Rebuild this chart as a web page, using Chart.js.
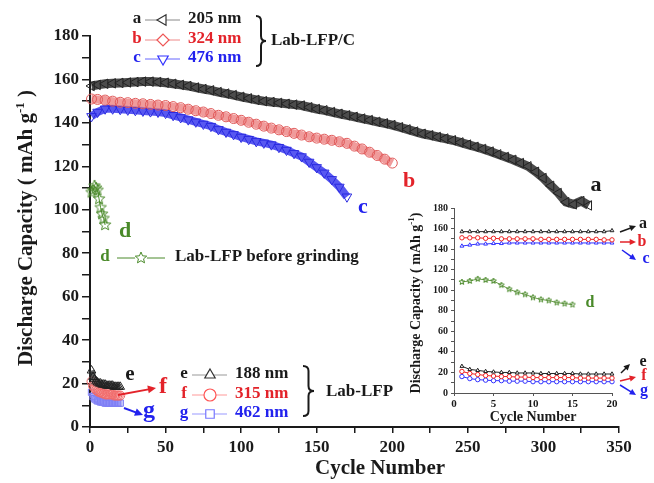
<!DOCTYPE html>
<html>
<head>
<meta charset="utf-8">
<script src="https://cdn.jsdelivr.net/npm/chart.js@4.4.1/dist/chart.umd.min.js"></script>
<style>
  html, body { margin: 0; padding: 0; background: #fff; }
  #wrap { position: relative; width: 654px; height: 483px; }
  #main { position: absolute; left: 0; top: 0; }
  #inset { position: absolute; left: 385px; top: 195px; }
</style>
</head>
<body>
<div id="wrap">
  <canvas id="main" width="654" height="483"></canvas>
  <canvas id="inset" width="269" height="230"></canvas>
</div>
<script>
// long-run cycling (read every ~5 cycles)
const mainCycles = [1,5,10,15,20,25,30,35,40,45,50,55,60,65,70,75,80,85,90,95,100,105,110,115,120,125,130,135,140,145,150,155,160,165,170,175,180,185,190,195,200,205,210,215,220,225,230,235,240,245,250,255,260,265,270,275,280,285,290,295,300,305,310,315,320,325,330];
const capA = [157,157.5,158,158.2,158.4,158.6,158.8,159,159,158.8,158.5,158,157.5,157,156.3,155.6,155,154.2,153.5,152.8,152,151.3,150.6,150,149.6,149.2,148.8,148.4,148,147.2,146.4,145.8,145,144.2,143.5,142.8,142,141.3,140.5,139.8,139,138,137,136,135,134.3,133.5,132.8,132,131,130,129,128,126.8,125.5,124.3,123,121.5,120,117.5,114.6,111,107.7,103.5,102.5,104,102];
const capB = [151,150.8,150.5,150,149.5,149.3,149,148.8,148.5,148.2,148,147.5,147,146.3,145.6,145,144.3,143.5,142.8,142,141.2,140.3,139.4,138.5,137.6,136.8,136,135.2,134.4,133.6,133,132.5,132,131.3,130.6,129.3,128,126.5,125,123.3,121.5];
const capC = [143,145,146.5,146.5,146.3,146,145.8,145.5,145.2,145,144.5,143.5,142.5,141.5,140.5,139.5,138.5,137,135.8,134.7,133.5,132.5,131.5,130.8,130,128.8,127.5,126,124.5,122,119.5,117,114,110.5,106];

// first 20 cycles (inset)
const shortCycles = [1,2,3,4,5,6,7,8,9,10,11,12,13,14,15,16,17,18,19,20];
const inA = [157,157,157,157,157,157,157,157,157,157,157,157,157,157,157,157,157,157,157,158];
const inB = [151,151,151,150.5,150.5,150,150,150,150,150,149.5,149.5,149.5,149.5,149.5,149.5,149.5,149.5,149,149];
const inC = [143,144,145,145,145.5,145.5,146,146,146,146,146,146,146,146,146,146,146,146,146,146];
const inD = [108,109,111,110,109,105,101,98,96,93,91,90,88,87,86];
const inE = [26,23,22,21,20.5,20,20,19.5,19.5,19.5,19,19,19,19,19,18.5,18.5,18.5,18.5,18.5];
const inF = [21,19,18,17,16.5,16,16,15.5,15.5,15,15,15,15,15,15,14.5,14.5,14.5,14.5,14.5];
const inG = [16,14,13,12.5,12,12,11.5,11.5,11.5,11,11,11,11,11,11,11,11,11,11,11];

const mainXTicks = [0, 350, 25];
const mainYTicks = [0, 180, 10];
const insetXTicks = [0, 20, 5];
const insetYTicks = [0, 180, 10];

const SERIF = '"Liberation Serif", "Times New Roman", serif';
const BLACK = '#1a1a1a', RED = '#e3232a', BLUE = '#2222ee', GREEN = '#4a8a2a';

const pts = (xs, ys) => ys.map((v, i) => ({ x: xs[i], y: v }));

function makeStar(r, color) {
  const c = document.createElement('canvas');
  const s = Math.ceil(r * 2 + 2);
  c.width = s; c.height = s;
  const g = c.getContext('2d');
  g.strokeStyle = color; g.lineWidth = 1;
  g.beginPath();
  for (let i = 0; i < 10; i++) {
    const rad = i % 2 ? r * 0.45 : r;
    const a = -Math.PI / 2 + i * Math.PI / 5;
    const px = s / 2 + rad * Math.cos(a), py = s / 2 + rad * Math.sin(a);
    i ? g.lineTo(px, py) : g.moveTo(px, py);
  }
  g.closePath(); g.stroke();
  return c;
}

function text(ctx, s, x, y, color, size, align = 'left') {
  ctx.font = `bold ${size}px ${SERIF}`;
  ctx.fillStyle = color; ctx.textAlign = align; ctx.textBaseline = 'middle';
  ctx.fillText(s, x, y);
}

function arrow(ctx, x1, y1, x2, y2, color, w = 2, head = 9) {
  const a = Math.atan2(y2 - y1, x2 - x1);
  ctx.save();
  ctx.strokeStyle = color; ctx.fillStyle = color; ctx.lineWidth = w;
  ctx.beginPath(); ctx.moveTo(x1, y1);
  ctx.lineTo(x2 - head * 0.7 * Math.cos(a), y2 - head * 0.7 * Math.sin(a)); ctx.stroke();
  ctx.beginPath(); ctx.moveTo(x2, y2);
  ctx.lineTo(x2 - head * Math.cos(a - 0.45), y2 - head * Math.sin(a - 0.45));
  ctx.lineTo(x2 - head * Math.cos(a + 0.45), y2 - head * Math.sin(a + 0.45));
  ctx.closePath(); ctx.fill();
  ctx.restore();
}

function brace(ctx, x, top, bottom, w) {
  const mid = (top + bottom) / 2, r = 5, xm = x + w / 2;
  ctx.save();
  ctx.strokeStyle = BLACK; ctx.lineWidth = 2;
  ctx.beginPath();
  ctx.moveTo(x, top);
  ctx.quadraticCurveTo(xm, top, xm, top + r);
  ctx.lineTo(xm, mid - r);
  ctx.quadraticCurveTo(xm, mid, x + w, mid);
  ctx.quadraticCurveTo(xm, mid, xm, mid + r);
  ctx.lineTo(xm, bottom - r);
  ctx.quadraticCurveTo(xm, bottom, x, bottom);
  ctx.stroke();
  ctx.restore();
}

function legendRow(ctx, y, x0, letter, color, lineColor, style, label, labelColor) {
  text(ctx, letter, x0, y - 1, color, 17, 'center');
  ctx.save();
  ctx.strokeStyle = lineColor; ctx.lineWidth = 1;
  ctx.beginPath(); ctx.moveTo(x0 + 8, y); ctx.lineTo(x0 + 43, y); ctx.stroke();
  ctx.fillStyle = '#fff'; ctx.strokeStyle = style.color; ctx.lineWidth = 1.2;
  Chart.helpers.drawPoint(ctx, { pointStyle: style.shape, rotation: style.rot || 0,
    radius: style.r || 6, borderWidth: 1.2 }, x0 + 26, y);
  ctx.restore();
  text(ctx, label, x0 + 51, y - 1, labelColor, 17);
}

function yTitle(ctx, cx, cy, size, tail) {
  const head = 'Discharge Capacity ( mAh g', sup = '-1';
  const ss = Math.round(size * 0.62);
  ctx.save();
  ctx.translate(cx, cy); ctx.rotate(-Math.PI / 2);
  ctx.fillStyle = BLACK; ctx.textAlign = 'left'; ctx.textBaseline = 'alphabetic';
  ctx.font = `bold ${size}px ${SERIF}`;
  const w1 = ctx.measureText(head).width, w3 = ctx.measureText(tail).width;
  ctx.font = `bold ${ss}px ${SERIF}`;
  const w2 = ctx.measureText(sup).width;
  let x = -(w1 + w2 + w3) / 2;
  const base = size * 0.33;
  ctx.font = `bold ${size}px ${SERIF}`; ctx.fillText(head, x, base); x += w1;
  ctx.font = `bold ${ss}px ${SERIF}`; ctx.fillText(sup, x, base - size * 0.4); x += w2;
  ctx.font = `bold ${size}px ${SERIF}`; ctx.fillText(tail, x, base);
  ctx.restore();
}

const starBig = makeStar(6, GREEN);
const starSmall = makeStar(3, GREEN);

const mainDecor = {
  id: 'mainDecor',
  afterDraw(chart) {
    const ctx = chart.ctx;
    yTitle(ctx, 25, 228, 21, ' )');
    text(ctx, 'Cycle Number', 380, 469, BLACK, 21, 'center');

    // top legend
    legendRow(ctx, 20, 137, 'a', BLACK, '#888', { shape: 'triangle', rot: -90, color: '#333' }, '205 nm', BLACK);
    legendRow(ctx, 40, 137, 'b', RED, '#e88', { shape: 'rectRot', color: '#e55' }, '324 nm', RED);
    legendRow(ctx, 59, 137, 'c', BLUE, '#66f', { shape: 'triangle', rot: 180, color: '#33f' }, '476 nm', BLUE);
    brace(ctx, 256, 16, 66, 10);
    text(ctx, 'Lab-LFP/C', 271, 41, BLACK, 17);

    // middle legend
    text(ctx, 'd', 105, 257, GREEN, 17, 'center');
    ctx.save(); ctx.strokeStyle = GREEN; ctx.lineWidth = 1;
    ctx.beginPath(); ctx.moveTo(117, 258); ctx.lineTo(165, 258); ctx.stroke();
    ctx.fillStyle = '#fff'; ctx.beginPath(); ctx.arc(141, 258, 6, 0, Math.PI * 2); ctx.fill();
    ctx.drawImage(starBig, 141 - starBig.width / 2, 258 - starBig.height / 2);
    ctx.restore();
    text(ctx, 'Lab-LFP before grinding', 175, 257, BLACK, 17);

    // bottom legend
    legendRow(ctx, 375, 184, 'e', BLACK, '#999', { shape: 'triangle', color: '#333' }, '188 nm', BLACK);
    legendRow(ctx, 395, 184, 'f', RED, '#f99', { shape: 'circle', color: '#f55' }, '315 nm', RED);
    legendRow(ctx, 414, 184, 'g', BLUE, '#99f', { shape: 'rect', color: '#77f', r: 6 }, '462 nm', BLUE);
    brace(ctx, 303, 366, 416, 11);
    text(ctx, 'Lab-LFP', 326, 392, BLACK, 17);

    // curve labels
    text(ctx, 'a', 596, 185, BLACK, 22, 'center');
    text(ctx, 'b', 409, 181, RED, 22, 'center');
    text(ctx, 'c', 363, 207, BLUE, 22, 'center');
    text(ctx, 'd', 125, 231, GREEN, 22, 'center');
    text(ctx, 'e', 130, 375, BLACK, 21, 'center');
    text(ctx, 'f', 163, 387, RED, 24, 'center');
    text(ctx, 'g', 149, 411, BLUE, 24, 'center');
    arrow(ctx, 118, 395, 156, 388, RED, 2, 9);
    arrow(ctx, 124, 408, 143, 415, BLUE, 2, 9);
  }
};

const insetDecor = {
  id: 'insetDecor',
  afterDraw(chart) {
    const ctx = chart.ctx;
    yTitle(ctx, 30, 108, 14, ')');
    text(ctx, 'Cycle Number', 148, 222, BLACK, 14, 'center');
    text(ctx, 'a', 258, 29, BLACK, 16, 'center');
    text(ctx, 'b', 257, 47, RED, 16, 'center');
    text(ctx, 'c', 261, 64, BLUE, 16, 'center');
    text(ctx, 'd', 205, 108, GREEN, 16, 'center');
    text(ctx, 'e', 258, 167, BLACK, 16, 'center');
    text(ctx, 'f', 259, 181, RED, 16, 'center');
    text(ctx, 'g', 259, 196, BLUE, 16, 'center');
    arrow(ctx, 235, 37, 251, 31, BLACK, 1.5, 7);
    arrow(ctx, 235, 47, 251, 47, RED, 1.5, 7);
    arrow(ctx, 237, 55, 251, 65, BLUE, 1.5, 7);
    arrow(ctx, 236, 178, 245, 169, BLACK, 1.5, 7);
    arrow(ctx, 235, 186, 251, 182, RED, 1.5, 7);
    arrow(ctx, 235, 190, 251, 200, BLUE, 1.5, 7);
  }
};

function axis(range, fixed, opts) {
  const [min, max, step] = range;
  return {
    type: 'linear', min, max,
    border: { color: opts.color, width: opts.bw },
    grid: { drawOnChartArea: false, tickLength: opts.tl, color: opts.color, lineWidth: opts.lw },
    ticks: {
      stepSize: step, padding: opts.pad, color: BLACK,
      font: { family: SERIF, size: opts.fs, weight: 'bold' },
      maxRotation: 0, autoSkip: false,
      callback: v => (v % opts.every === 0 ? v : ''),
    },
    afterFit: fixed,
  };
}

const mainSeries = (label, xs, ys, color, band, shape, rot, r, bw) => ({
  label, data: pts(xs, ys), borderColor: band, borderWidth: bw,
  pointStyle: shape, rotation: rot, pointRadius: r, pointBorderColor: color,
  pointBackgroundColor: 'rgba(255,255,255,0)', pointBorderWidth: 1, clip: false,
});

new Chart(document.getElementById('main'), {
  type: 'line',
  data: {
    datasets: [
      mainSeries('a', mainCycles, capA, '#222', 'rgba(45,45,45,0.85)', 'triangle', -90, 5.5, 9),
      mainSeries('b', mainCycles, capB, '#e05a5a', 'rgba(236,130,130,0.8)', 'circle', 0, 5, 8),
      mainSeries('c', mainCycles, capC, '#2a2ae0', 'rgba(70,70,240,0.9)', 'triangle', 180, 5.5, 8),
      { label: 'd', data: pts(shortCycles, inD.slice(0, 10)), borderColor: GREEN, borderWidth: 1,
        pointStyle: starBig, clip: false },
      mainSeries('e', shortCycles, inE, '#222', 'rgba(50,50,50,0.8)', 'triangle', 0, 5, 6),
      mainSeries('f', shortCycles, inF, '#f06a6a', 'rgba(245,150,150,0.8)', 'circle', 0, 4.5, 6),
      mainSeries('g', shortCycles, inG, '#8080f5', 'rgba(150,150,250,0.8)', 'rect', 0, 4.5, 6),
    ],
  },
  options: {
    responsive: false, animation: false,
    layout: { padding: { top: 36, right: 35, left: 0, bottom: 0 } },
    plugins: { legend: { display: false }, tooltip: { enabled: false } },
    scales: {
      x: axis(mainXTicks, s => { s.height = 56; }, { color: BLACK, bw: 2, tl: 6, lw: 1.5, pad: 4, fs: 17, every: 50 }),
      y: axis(mainYTicks, s => { s.width = 90; }, { color: BLACK, bw: 2, tl: 8, lw: 1.5, pad: 3, fs: 17, every: 20 }),
    },
  },
  plugins: [mainDecor],
});

const insetSeries = (label, ys, color, shape, rot) => ({
  label, data: pts(shortCycles, ys), borderColor: color, borderWidth: 1,
  pointStyle: shape, rotation: rot, pointRadius: 2.2, pointBorderColor: color,
  pointBackgroundColor: '#fff', pointBorderWidth: 1, clip: false,
});

new Chart(document.getElementById('inset'), {
  type: 'line',
  data: {
    datasets: [
      insetSeries('a', inA, '#222', 'triangle', 0),
      insetSeries('b', inB, '#e22', 'circle', 0),
      insetSeries('c', inC, '#33f', 'triangle', 0),
      { label: 'd', data: pts(shortCycles, inD), borderColor: '#6a9a4a', borderWidth: 1,
        pointStyle: starSmall, clip: false },
      insetSeries('e', inE, '#222', 'triangle', 0),
      insetSeries('f', inF, '#e22', 'circle', 0),
      insetSeries('g', inG, '#33f', 'circle', 0),
    ],
  },
  options: {
    responsive: false, animation: false,
    layout: { padding: { top: 13, right: 42, left: 0, bottom: 0 } },
    plugins: { legend: { display: false }, tooltip: { enabled: false } },
    scales: {
      x: axis(insetXTicks, s => { s.height = 32; }, { color: '#555', bw: 1, tl: 3, lw: 1, pad: 2, fs: 11, every: 5 }),
      y: axis(insetYTicks, s => { s.width = 69; }, { color: '#555', bw: 1, tl: 3, lw: 1, pad: 3, fs: 10, every: 20 }),
    },
  },
  plugins: [insetDecor],
});
</script>
</body>
</html>
